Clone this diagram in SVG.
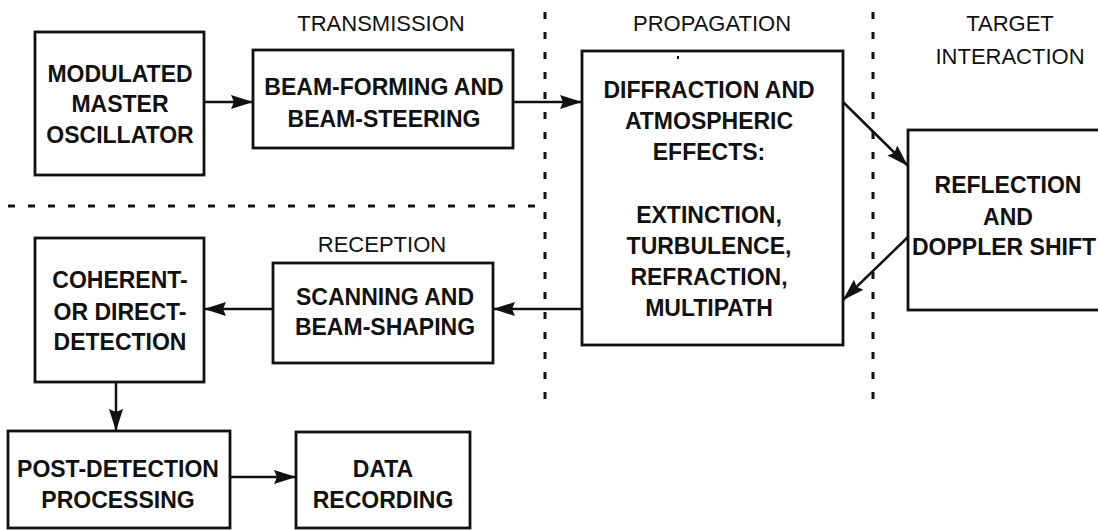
<svg xmlns="http://www.w3.org/2000/svg" width="1098" height="530" viewBox="0 0 1098 530">
  <style>
    .box { fill: #fff; stroke: #111; stroke-width: 2.8; }
    .lbl { font-family: "Liberation Sans", Arial, sans-serif; font-weight: bold; font-size: 23px; fill: #111; text-anchor: middle; }
    .hdr { font-family: "Liberation Sans", Arial, sans-serif; font-size: 22px; fill: #111; text-anchor: middle; }
    .wire { fill: none; stroke: #111; stroke-width: 2.5; }
    .sep { fill: none; stroke: #111; stroke-width: 3; stroke-dasharray: 7 13; }
  </style>
  <defs>
    <marker id="ah" viewBox="0 0 22 14" refX="22" refY="7" markerWidth="22" markerHeight="14" markerUnits="userSpaceOnUse" orient="auto">
      <path d="M0,0 L22,7 L0,14 L3,7 Z" fill="#111"/>
    </marker>
  </defs>
  <rect width="1098" height="530" fill="#fff"/>

  <!-- section separators -->
  <g id="separators">
    <line class="sep" x1="545" y1="12" x2="545" y2="400"/>
    <line class="sep" x1="873" y1="12" x2="873" y2="400"/>
    <line class="sep" x1="8" y1="206" x2="545" y2="206"/>
  </g>

  <!-- stage headings -->
  <g id="headings">
    <text class="hdr" x="381" y="31">TRANSMISSION</text>
    <text class="hdr" x="712" y="31">PROPAGATION</text>
    <text class="hdr" x="1010" y="31">TARGET</text>
    <text class="hdr" x="1010" y="64">INTERACTION</text>
    <text class="hdr" x="382" y="252">RECEPTION</text>
  </g>

  <g id="oscillator">
    <rect class="box" x="35" y="32" width="169" height="143"/>
    <text class="lbl" x="120" y="82">MODULATED</text>
    <text class="lbl" x="120" y="112">MASTER</text>
    <text class="lbl" x="120" y="143">OSCILLATOR</text>
  </g>

  <g id="beam-forming">
    <rect class="box" x="253" y="50" width="260" height="98"/>
    <text class="lbl" x="384" y="95">BEAM-FORMING AND</text>
    <text class="lbl" x="384" y="127">BEAM-STEERING</text>
  </g>

  <g id="propagation">
    <rect class="box" x="582" y="51" width="261" height="294"/>
    <rect x="677" y="56" width="2" height="3" fill="#111"/>
    <text class="lbl" x="709" y="98">DIFFRACTION AND</text>
    <text class="lbl" x="709" y="129">ATMOSPHERIC</text>
    <text class="lbl" x="709" y="160">EFFECTS:</text>
    <text class="lbl" x="709" y="223">EXTINCTION,</text>
    <text class="lbl" x="709" y="254">TURBULENCE,</text>
    <text class="lbl" x="709" y="285">REFRACTION,</text>
    <text class="lbl" x="709" y="316">MULTIPATH</text>
  </g>

  <g id="reflection">
    <rect class="box" x="908" y="130" width="210" height="180"/>
    <text class="lbl" x="1008" y="193">REFLECTION</text>
    <text class="lbl" x="1008" y="225">AND</text>
    <text class="lbl" x="1004" y="255" font-size="22.5">DOPPLER SHIFT</text>
  </g>

  <g id="scanning">
    <rect class="box" x="273" y="263" width="220" height="100"/>
    <text class="lbl" x="385" y="305">SCANNING AND</text>
    <text class="lbl" x="385" y="335">BEAM-SHAPING</text>
  </g>

  <g id="detection">
    <rect class="box" x="35" y="238" width="169" height="144"/>
    <text class="lbl" x="120" y="288">COHERENT-</text>
    <text class="lbl" x="120" y="320">OR DIRECT-</text>
    <text class="lbl" x="120" y="350">DETECTION</text>
  </g>

  <g id="post-detection">
    <rect class="box" x="8" y="431" width="222" height="97"/>
    <text class="lbl" x="118" y="477">POST-DETECTION</text>
    <text class="lbl" x="118" y="508">PROCESSING</text>
  </g>

  <g id="data-recording">
    <rect class="box" x="296" y="432" width="174" height="96"/>
    <text class="lbl" x="383" y="477">DATA</text>
    <text class="lbl" x="383" y="508">RECORDING</text>
  </g>

  <g id="connectors">
    <line class="wire" x1="204" y1="102" x2="253" y2="102" marker-end="url(#ah)"/>
    <line class="wire" x1="513" y1="102" x2="582" y2="102" marker-end="url(#ah)"/>
    <line class="wire" x1="843" y1="102" x2="908" y2="166" marker-end="url(#ah)"/>
    <line class="wire" x1="908" y1="237" x2="843" y2="300" marker-end="url(#ah)"/>
    <line class="wire" x1="582" y1="309" x2="493" y2="309" marker-end="url(#ah)"/>
    <line class="wire" x1="273" y1="309" x2="204" y2="309" marker-end="url(#ah)"/>
    <line class="wire" x1="116" y1="382" x2="116" y2="431" marker-end="url(#ah)"/>
    <line class="wire" x1="230" y1="477" x2="296" y2="477" marker-end="url(#ah)"/>
  </g>
</svg>
